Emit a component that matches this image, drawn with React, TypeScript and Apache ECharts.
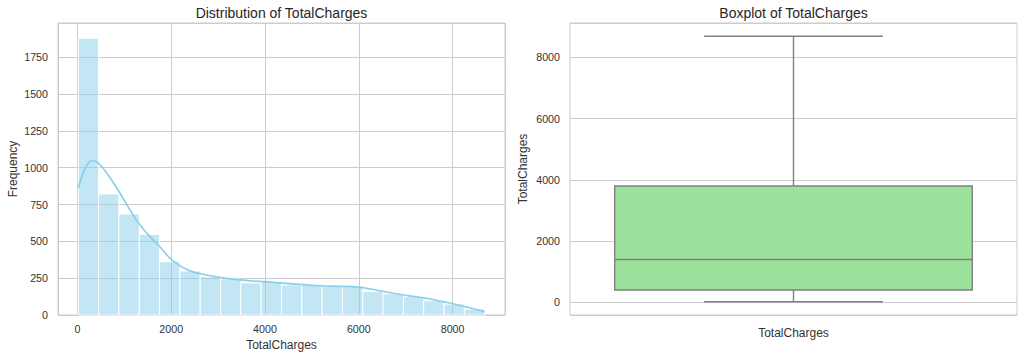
import React, { useEffect, useRef } from 'react';
import * as echarts from 'echarts';

// Histogram bins of TotalCharges (20 bins from min to max)
const binEdges = [
  18.8, 452.1, 885.4, 1318.7, 1752.0, 2185.3, 2618.6, 3051.9, 3485.2, 3918.5, 4351.8,
  4785.1, 5218.4, 5651.7, 6085.0, 6518.3, 6951.6, 7384.9, 7818.2, 8251.5, 8684.8,
];
const binCounts = [
  1880, 822, 686, 548, 362, 299, 260, 245, 218, 228, 205, 203, 196, 191, 160, 143, 125, 97, 75, 40,
];

// KDE curve
const kdeX = [
  18.8, 100, 200, 300, 400, 500, 600, 700, 903, 1116, 1327, 1540, 1753, 2036, 2392, 2747, 3173, 3670, 4167,
  4735, 5161, 5446, 6013, 6368, 6723, 7078, 7433, 7788, 8214, 8684.8,
];
const kdeY = [
  862, 945, 1015, 1048, 1042, 1015, 975, 930, 830, 716, 614, 534, 465, 368, 301, 272, 249, 233, 222,
  208, 199, 196, 189, 170, 148, 130, 114, 91, 61, 23,
];

// Boxplot stats: min, Q1, median, Q3, max
const boxCategories = ['TotalCharges'];
const boxStats = [18.8, 401.45, 1397.475, 3794.74, 8684.8];

const leftTitle = 'Distribution of TotalCharges';
const rightTitle = 'Boxplot of TotalCharges';

const FONT = '"Liberation Sans", Arial, sans-serif';
const TXT = '#333333';
const GRIDC = '#cccccc';

export default function App() {
  const ref = useRef<HTMLDivElement>(null);
  useEffect(() => {
    if (!ref.current) return;
    const chart = echarts.init(ref.current, undefined, { renderer: 'svg' });
    const histData = binCounts.map((c, i) => [binEdges[i], binEdges[i + 1], c]);
    const kdeData = kdeX.map((x, i) => [x, kdeY[i]]);
    const boxData = [[0, ...boxStats]];
    const fmt = (v: number) => String(v);
    const axisLabel = { color: TXT, fontSize: 10.7, fontFamily: FONT, formatter: fmt };
    const nameStyle = { color: TXT, fontSize: 12, fontFamily: FONT };
    const option: any = {
      animation: false,
      backgroundColor: '#ffffff',
      grid: [
        { left: 58, top: 23, width: 447, height: 292, show: true, borderColor: GRIDC, borderWidth: 1, backgroundColor: 'transparent' },
        { left: 570, top: 23, width: 447, height: 292, show: true, borderColor: GRIDC, borderWidth: 1, backgroundColor: 'transparent' },
      ],
      xAxis: [
        {
          gridIndex: 0, type: 'value', min: -414, max: 9118, splitNumber: 5,
          axisLine: { show: false }, axisTick: { show: false },
          axisLabel: { ...axisLabel, margin: 8, showMinLabel: false, showMaxLabel: false },
          splitLine: { show: true, lineStyle: { color: GRIDC, width: 1 } },
          name: 'TotalCharges', nameLocation: 'middle', nameGap: 22, nameTextStyle: nameStyle,
        },
        {
          gridIndex: 1, type: 'category', data: boxCategories,
          axisLine: { show: false }, axisTick: { show: false }, axisLabel: { show: false },
          splitLine: { show: false },
          name: 'TotalCharges', nameLocation: 'middle', nameGap: 12, nameTextStyle: nameStyle,
        },
      ],
      yAxis: [
        {
          gridIndex: 0, type: 'value', min: 0, max: 1983, interval: 250,
          axisLine: { show: false }, axisTick: { show: false },
          axisLabel: { ...axisLabel, margin: 10, showMaxLabel: false },
          splitLine: { show: true, lineStyle: { color: GRIDC, width: 1 } },
          name: 'Frequency', nameLocation: 'middle', nameGap: 39, nameTextStyle: nameStyle,
        },
        {
          gridIndex: 1, type: 'value', min: -414, max: 9118, splitNumber: 5,
          axisLine: { show: false }, axisTick: { show: false },
          axisLabel: { ...axisLabel, margin: 10, showMinLabel: false, showMaxLabel: false },
          splitLine: { show: true, lineStyle: { color: GRIDC, width: 1 } },
          name: 'TotalCharges', nameLocation: 'middle', nameGap: 41, nameTextStyle: nameStyle,
        },
      ],
      graphic: [
        { type: 'text', x: 281.5, y: 13, style: { text: leftTitle, textAlign: 'center', textVerticalAlign: 'middle', font: `14px ${FONT}`, fill: '#262626' } },
        { type: 'text', x: 793.5, y: 13, style: { text: rightTitle, textAlign: 'center', textVerticalAlign: 'middle', font: `14px ${FONT}`, fill: '#262626' } },
      ],
      series: [
        {
          type: 'custom', xAxisIndex: 0, yAxisIndex: 0, data: histData,
          encode: { x: [0, 1], y: 2 },
          renderItem: (params: any, api: any) => {
            const p0 = api.coord([api.value(0), api.value(2)]);
            const p1 = api.coord([api.value(1), 0]);
            return {
              type: 'rect',
              shape: { x: p0[0], y: p0[1], width: p1[0] - p0[0], height: p1[1] - p0[1] },
              style: { fill: 'rgba(135,206,235,0.5)', stroke: '#ffffff', lineWidth: 1 },
            };
          },
        },
        {
          type: 'line', xAxisIndex: 0, yAxisIndex: 0, data: kdeData, smooth: 0.4,
          showSymbol: false, symbol: 'none',
          lineStyle: { color: '#87ceeb', width: 1.6 },
        },
        {
          type: 'custom', xAxisIndex: 1, yAxisIndex: 1, data: boxData,
          encode: { x: 0, y: [1, 2, 3, 4, 5] },
          renderItem: (params: any, api: any) => {
            const cat = api.value(0);
            const band = api.size([1, 0])[0];
            const pMin = api.coord([cat, api.value(1)]);
            const pQ1 = api.coord([cat, api.value(2)]);
            const pMed = api.coord([cat, api.value(3)]);
            const pQ3 = api.coord([cat, api.value(4)]);
            const pMax = api.coord([cat, api.value(5)]);
            const cx = pQ1[0];
            const hw = band * 0.4;
            const cw = band * 0.2;
            const ls = { stroke: '#808080', lineWidth: 1.4 };
            return {
              type: 'group',
              children: [
                { type: 'line', shape: { x1: cx, y1: pQ1[1], x2: cx, y2: pMin[1] }, style: ls },
                { type: 'line', shape: { x1: cx, y1: pQ3[1], x2: cx, y2: pMax[1] }, style: ls },
                { type: 'line', shape: { x1: cx - cw, y1: pMin[1], x2: cx + cw, y2: pMin[1] }, style: ls },
                { type: 'line', shape: { x1: cx - cw, y1: pMax[1], x2: cx + cw, y2: pMax[1] }, style: ls },
                { type: 'rect', shape: { x: cx - hw, y: pQ3[1], width: hw * 2, height: pQ1[1] - pQ3[1] }, style: { fill: '#9ce29c', stroke: '#808080', lineWidth: 1.4 } },
                { type: 'line', shape: { x1: cx - hw, y1: pMed[1], x2: cx + hw, y2: pMed[1] }, style: ls },
              ],
            };
          },
        },
      ],
    };
    chart.setOption(option);
    return () => chart.dispose();
  }, []);
  return (
    <div
      ref={ref}
      style={{ position: 'fixed', left: 0, top: 0, width: 1024, height: 358, background: '#fff' }}
    />
  );
}
